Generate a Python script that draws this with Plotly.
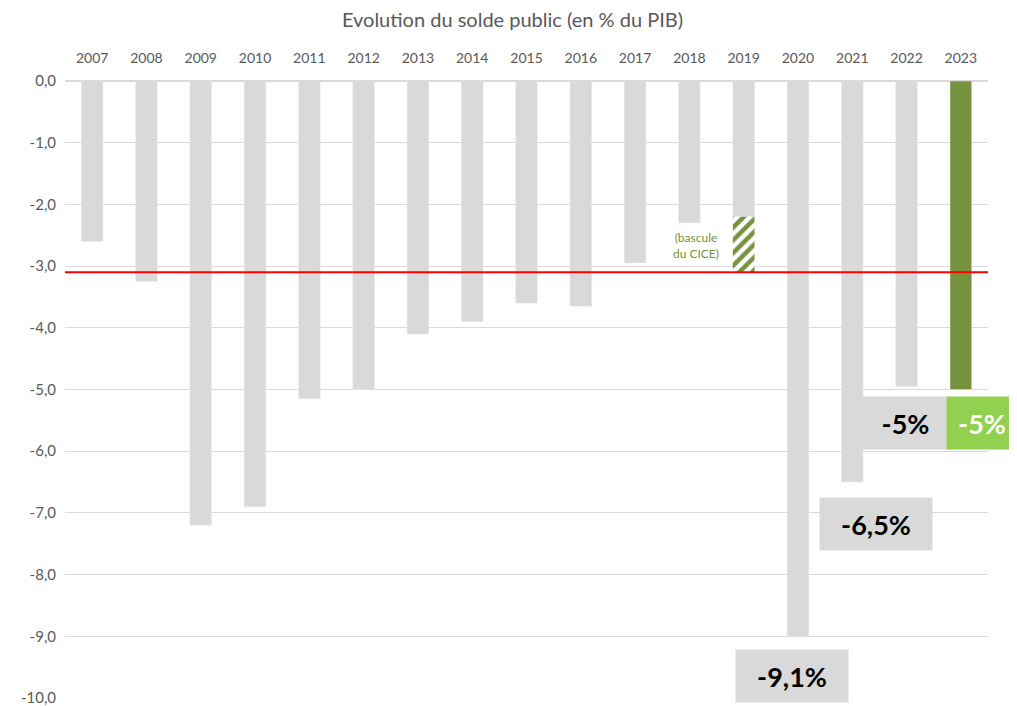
import plotly.graph_objects as go

years = [str(y) for y in range(2007, 2024)]
solde = [-2.6, -3.25, -7.2, -6.9, -5.15, -5.0, -4.1, -3.9, -3.6, -3.65, -2.95, -2.3, -2.2, -9.0, -6.5, -4.95, -5.0]
cice_year = "2019"
cice_base = -2.2
cice_extra = -0.9
highlight_year = "2023"
seuil = -3.1
labels = [("2022", -5.54, "-5%"), ("2021", -7.18, "-6,5%"), ("2020", -9.64, "-9,1%")]
ytick_vals = [0, -1, -2, -3, -4, -5, -6, -7, -8, -9, -10]
ytick_text = ["0,0", "-1,0", "-2,0", "-3,0", "-4,0", "-5,0", "-6,0", "-7,0", "-8,0", "-9,0", "-10,0"]

gray_x = [y for y in years if y != highlight_year]
gray_y = [v for y, v in zip(years, solde) if y != highlight_year]
hl_y = [v for y, v in zip(years, solde) if y == highlight_year]

fig = go.Figure()
fig.add_bar(x=gray_x, y=gray_y, marker_color="#D9D9D9", width=0.4, showlegend=False)
fig.add_bar(x=[highlight_year], y=hl_y, marker_color="#76923C", width=0.4, showlegend=False)
fig.add_bar(x=[cice_year], y=[cice_extra], base=[cice_base], width=0.4, showlegend=False,
            marker=dict(color="white", line=dict(width=0),
                        pattern=dict(shape="/", fgcolor="#76923C", bgcolor="white", fgopacity=1,
                                     size=9, solidity=0.5)))

fig.add_shape(type="line", xref="paper", yref="y", x0=0, x1=1, y0=seuil, y1=seuil,
              line=dict(color="#FF0000", width=2))

idx = {y: i for i, y in enumerate(years)}
offsets = {"2022": -0.02, "2021": 0.44, "2020": -0.11}
widths = {"2022": 81, "2021": 108, "2020": 108}
for yr, yv, txt in labels:
    fig.add_annotation(x=idx[yr] + offsets[yr], y=yv, xref="x", yref="y", text="<b>" + txt + "</b>",
                       showarrow=False, bgcolor="#D9D9D9", width=widths[yr], height=48, borderpad=2,
                       font=dict(family="Lato", size=27, color="black"))
fig.add_annotation(x=idx[highlight_year] + 0.39, y=-5.54, xref="x", yref="y", text="<b>-5%</b>",
                   showarrow=False, bgcolor="#92D050", width=66, height=48, borderpad=2,
                   font=dict(family="Lato", size=27, color="white"))
fig.add_annotation(x=idx[cice_year] - 0.88, y=-2.66, xref="x", yref="y",
                   text="(bascule<br>du CICE)", showarrow=False,
                   font=dict(family="Lato", size=12, color="#76923C"))

fig.update_layout(
    width=1009, height=706,
    margin=dict(l=57, r=29, t=73, b=16, autoexpand=False),
    paper_bgcolor="white", plot_bgcolor="white",
    barmode="overlay",
    title=dict(text="Evolution du solde public (en % du PIB)", x=0.5, xanchor="center", y=0.983, yanchor="middle",
               font=dict(family="Lato", size=20, color="#595959")),
    xaxis=dict(side="top", type="category", range=[-0.5, len(years) - 0.5], showgrid=False, showline=False,
               ticks="", ticklabelstandoff=14, automargin=False,
               tickfont=dict(family="Lato", size=14, color="#595959")),
    yaxis=dict(range=[-10, 0], tickvals=ytick_vals, ticktext=ytick_text, showgrid=True, gridcolor="#D9D9D9",
               zeroline=True, zerolinecolor="#D9D9D9", showline=False, ticks="", automargin=False,
               ticklabelstandoff=8,
               tickfont=dict(family="Lato", size=15, color="#595959")),
)
fig.write_html("out.html")
